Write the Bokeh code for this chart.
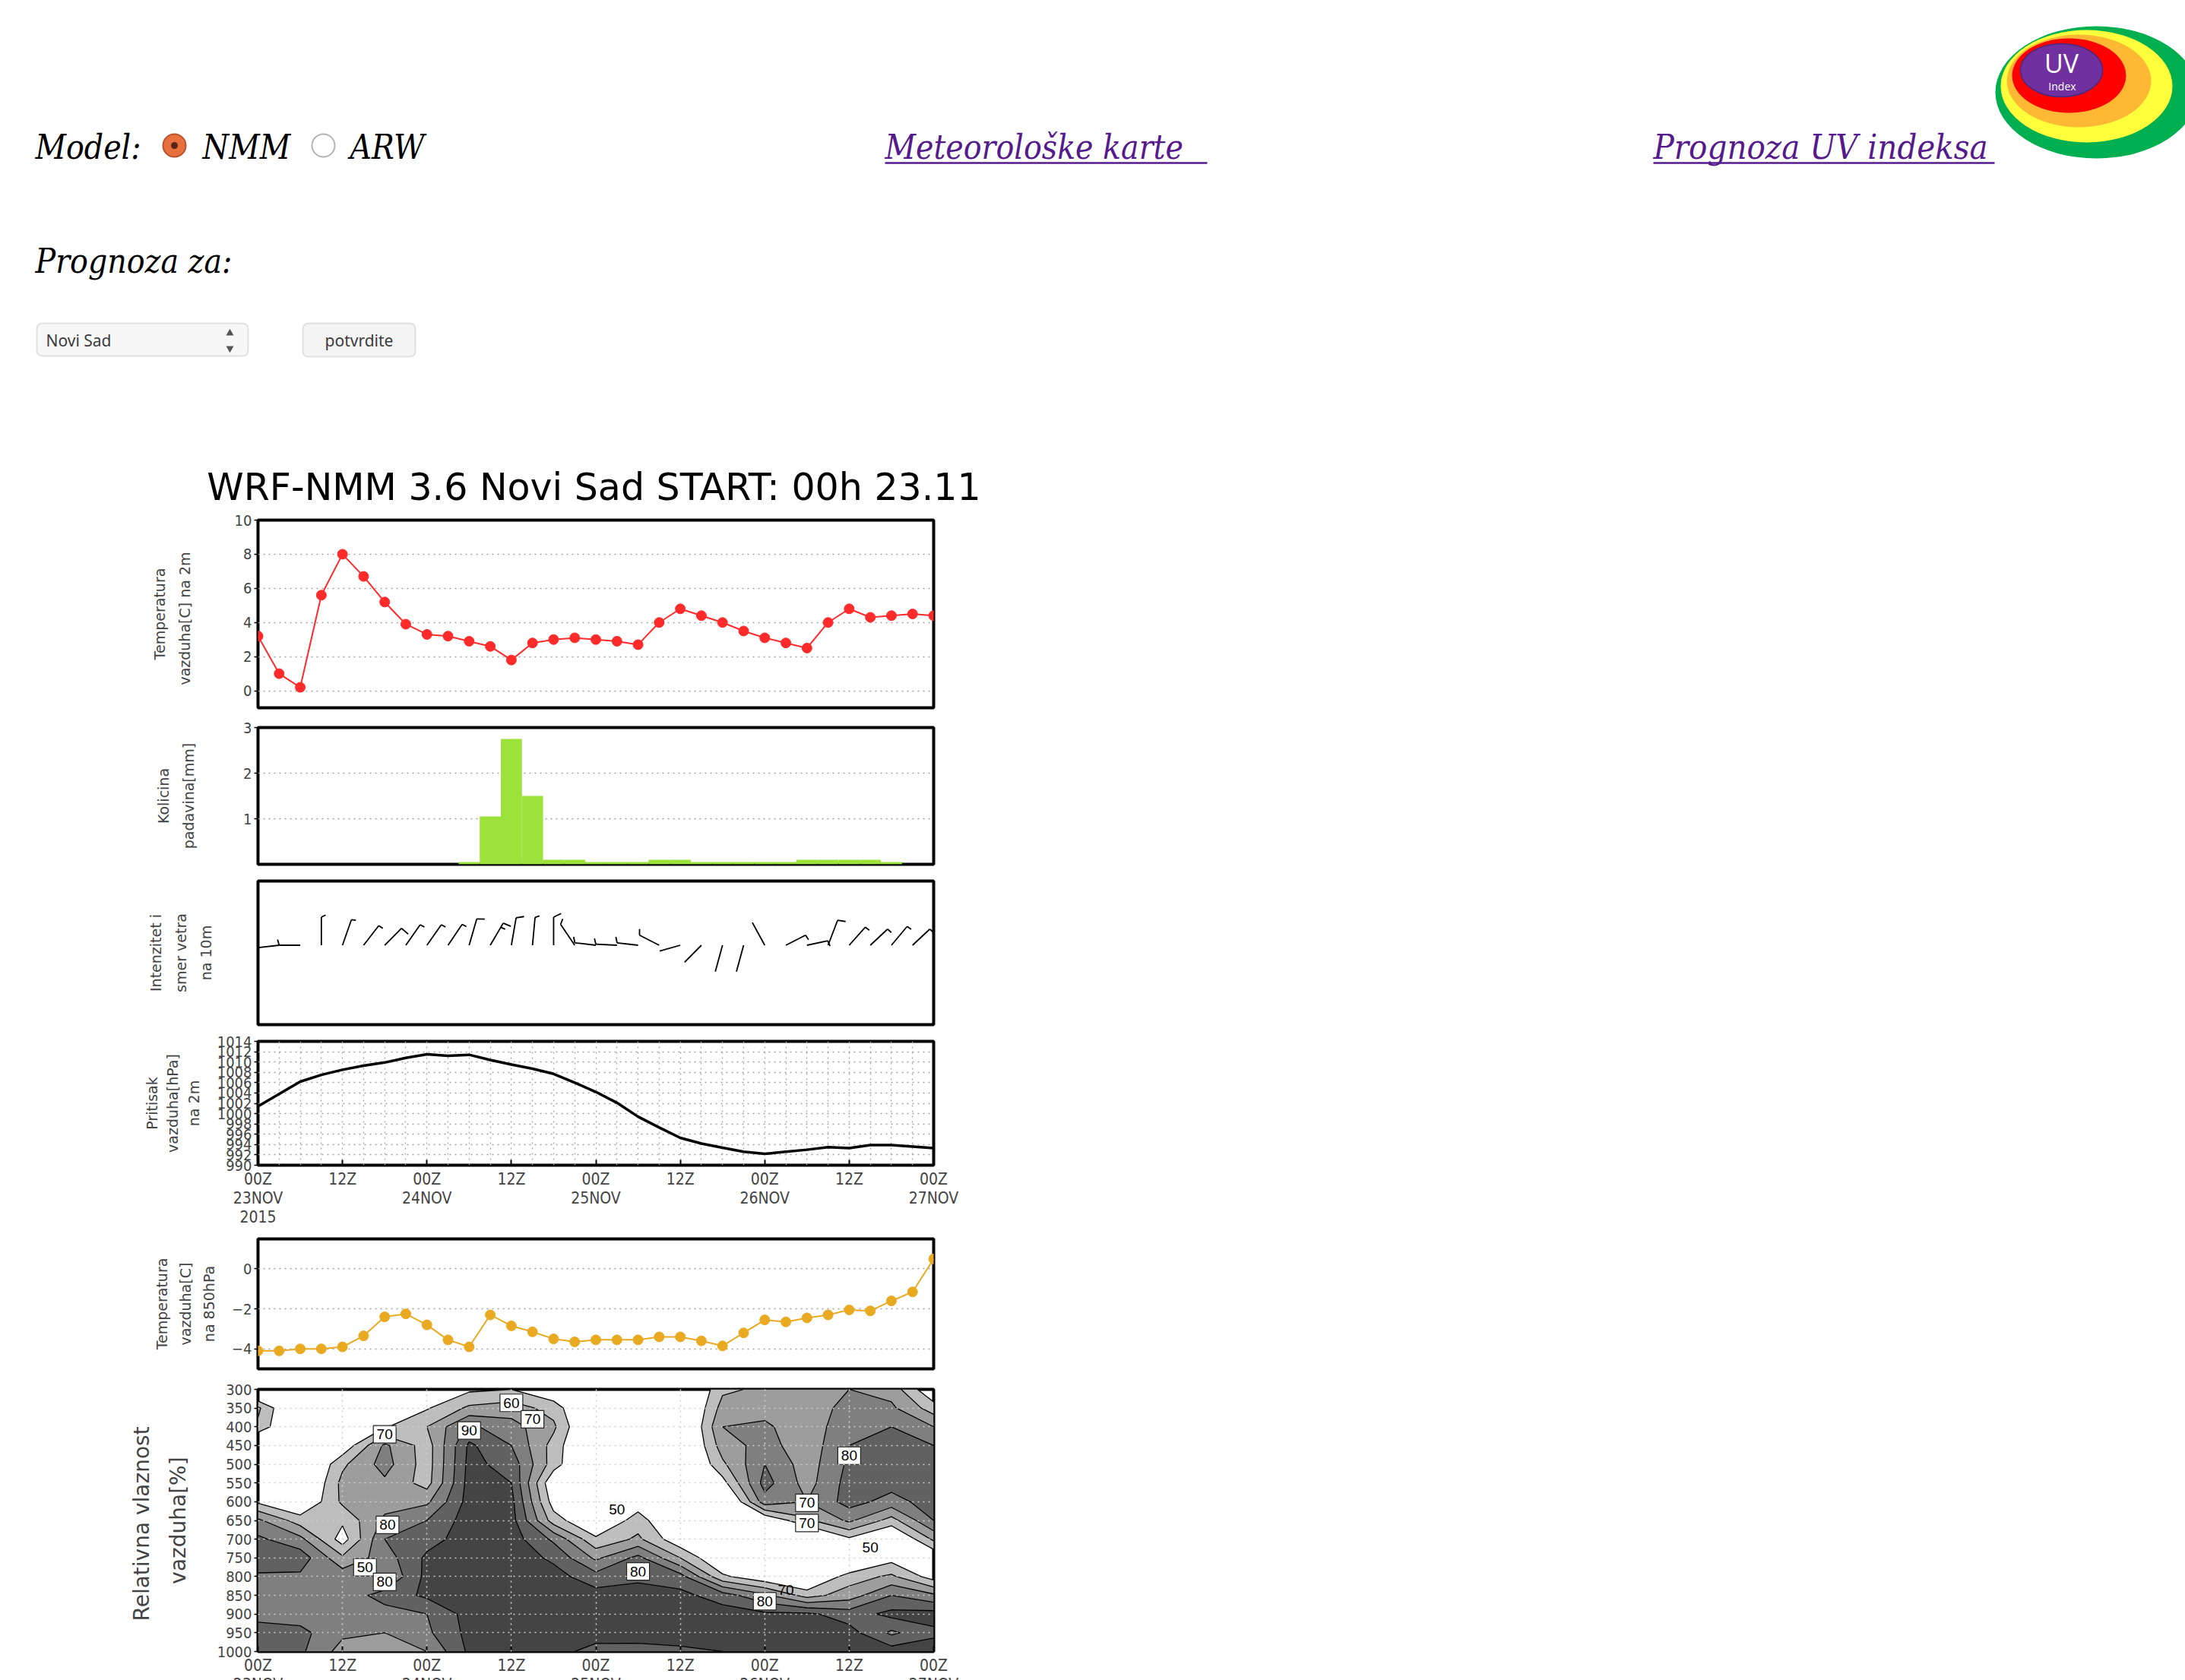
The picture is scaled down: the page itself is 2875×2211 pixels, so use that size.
import numpy as np
from bokeh.plotting import figure
from bokeh.layouts import column
from bokeh.models import Range1d, FixedTicker, BoxAnnotation
from bokeh.core.properties import value
from bokeh.embed import file_html
from bokeh.resources import INLINE

# ---------------- forecast data: 3-hourly steps from 00Z 23 NOV 2015 ----------------
hours = list(range(0, 97, 3))

# 2 m air temperature [C]
t2m = [3.2, 1.0, 0.2, 5.6, 8.0, 6.7, 5.2, 3.9, 3.3, 3.2, 2.9, 2.6, 1.8, 2.8, 3.0, 3.1,
       3.0, 2.9, 2.7, 4.0, 4.8, 4.4, 4.0, 3.5, 3.1, 2.8, 2.5, 4.0, 4.8, 4.3, 4.4, 4.5, 4.4]

# 3-hour precipitation [mm]
precip = [0, 0, 0, 0, 0, 0, 0, 0, 0, 0, 0.05, 1.05, 2.75, 1.5, 0.1, 0.1, 0.05, 0.05,
          0.05, 0.1, 0.1, 0.05, 0.05, 0.05, 0.05, 0.05, 0.1, 0.1, 0.1, 0.1, 0.05, 0, 0]

# 10 m wind: direction the wind blows from [deg] and speed [kt]
wind_dir = [0, 265, 270, 0, 25, 46, 53, 43, 43, 42, 21, 38, 13, 7, 0, 318, 275, 272,
            275, 291, 258, 233, 200, 200, 324, 69, 81, 27, 50, 55, 48, 55, 0]
wind_spd = [0, 5, 5, 5, 5, 5, 10, 5, 5, 5, 10, 15, 10, 5, 10, 5, 5, 5,
            5, 5, 3, 3, 3, 3, 3, 5, 5, 10, 5, 5, 5, 5, 0]

# sea level pressure [hPa]
mslp = [1001.4, 1003.8, 1006.2, 1007.5, 1008.5, 1009.3, 1009.9, 1010.8, 1011.5, 1011.2,
        1011.4, 1010.4, 1009.5, 1008.7, 1007.7, 1006.0, 1004.2, 1002.1, 999.4, 997.3,
        995.3, 994.2, 993.4, 992.6, 992.2, 992.6, 993.0, 993.5, 993.3, 993.9, 993.9,
        993.6, 993.3]

# 850 hPa air temperature [C]
t850 = [-4.1, -4.1, -4.0, -4.0, -3.9, -3.35, -2.4, -2.25, -2.8, -3.55, -3.9, -2.3,
        -2.85, -3.15, -3.5, -3.65, -3.55, -3.55, -3.55, -3.4, -3.4, -3.6, -3.85, -3.2,
        -2.55, -2.65, -2.45, -2.3, -2.05, -2.1, -1.6, -1.15, 0.5]

# relative humidity cross-section [%], 6-hourly columns, levels 300..1000 hPa
rh_hours = list(range(0, 97, 6))
rh_levels = list(range(300, 1001, 50))
rh_00 = [30, 62, 58, 30, 30, 30, 48, 72, 82, 88, 78, 74, 77, 84, 86]
rh_06 = [30, 30, 30, 30, 30, 32, 38, 55, 73, 86, 78, 74, 75, 83, 82]
rh_12 = [30, 30, 30, 42, 58, 63, 62, 52, 45, 62, 76, 74, 72, 72, 66]
rh_18 = [30, 30, 49, 72, 74, 68, 66, 72, 80, 75, 70, 84, 76, 70, 64]
rh_24 = [30, 49, 60, 55, 55, 56, 68, 80, 86, 92, 93, 92, 80, 78, 70]
rh_30 = [48, 62, 82, 92, 93, 94, 94, 95, 95, 96, 96, 95, 94, 93, 92]
rh_36 = [50, 65, 74, 80, 86, 90, 93, 94, 95, 96, 96, 96, 96, 94, 93]
rh_42 = [40, 56, 62, 56, 55, 40, 45, 55, 78, 88, 94, 96, 96, 95, 93]
rh_48 = [30, 30, 30, 30, 30, 30, 30, 38, 52, 68, 84, 94, 96, 94, 87]
rh_54 = [30, 30, 30, 30, 30, 30, 44, 55, 62, 83, 88, 94, 96, 95, 86]
rh_60 = [30, 30, 30, 30, 30, 30, 30, 35, 42, 60, 84, 93, 95, 95, 88]
rh_66 = [58, 64, 70, 65, 58, 46, 30, 30, 30, 38, 52, 85, 95, 95, 90]
rh_72 = [62, 66, 72, 74, 80, 84, 76, 40, 30, 30, 42, 72, 92, 95, 94]
rh_78 = [62, 62, 63, 64, 65, 66, 70, 58, 30, 30, 35, 56, 92, 95, 95]
rh_84 = [70, 75, 78, 80, 82, 84, 84, 72, 48, 30, 55, 65, 85, 94, 95]
rh_90 = [66, 72, 80, 84, 85, 84, 76, 56, 35, 46, 62, 80, 93, 78, 95]
rh_96 = [40, 55, 70, 80, 82, 84, 85, 80, 62, 40, 45, 72, 94, 88, 95]
rh_columns = [rh_00, rh_06, rh_12, rh_18, rh_24, rh_30, rh_36, rh_42, rh_48,
              rh_54, rh_60, rh_66, rh_72, rh_78, rh_84, rh_90, rh_96]
rh_bounds = [50, 60, 70, 80, 90, 101]

# contour value labels (hour, pressure, text): boxed and plain
rh_box_t = [36, 39, 18, 30, 84, 78, 78, 18.4, 15.2, 18, 54, 72]
rh_box_p = [336, 380, 420, 410, 477, 603, 657, 662, 775, 814, 786, 866]
rh_box_s = ["60", "70", "70", "90", "80", "70", "70", "80", "50", "80", "80", "80"]
rh_txt_t = [51, 87, 75]
rh_txt_p = [620, 722, 836]
rh_txt_s = ["50", "50", "70"]

# time axis tick labels
time_ticks = list(range(0, 97, 12))
time_labels = ["00Z\n23NOV\n2015", "12Z", "00Z\n24NOV", "12Z", "00Z\n25NOV",
               "12Z", "00Z\n26NOV", "12Z", "00Z\n27NOV"]

NARROW = "Liberation Sans Narrow, DejaVu Sans Condensed, Liberation Sans, sans-serif"
SERIF = "DejaVu Serif Condensed, DejaVu Serif, serif"
FRAME_W = 889
LEFT_B = 339
RIGHT_B = 90


# ---------------- page header (1 unit = 1 px, kept out of the panels' frame alignment) ----------------
HEAD_H = 670
hdr = figure(width=2875, height=HEAD_H, x_range=Range1d(0, 2875), y_range=Range1d(HEAD_H, 0),
             min_border=0, output_backend="svg", toolbar_location=None)
hdr.frame_align = False
hdr.axis.visible = False
hdr.grid.visible = False
hdr.outline_line_color = None
OV = dict(level="overlay")


def head_text(x, y, s, font=SERIF, size="44px", color="black", style="italic", align="left"):
    hdr.text(x=[x], y=[y], text=[s], text_font=value(font), text_font_size=size,
             text_font_style=style, text_color=color, text_align=align, text_baseline="middle",
             **OV)


head_text(46, 193, "Model:")
hdr.circle(x=[229], y=[191], radius=15, fill_color="#e8703f", line_color="#b9532c",
           line_width=2, **OV)
hdr.circle(x=[229], y=[191], radius=4.5, fill_color="#5a2410", line_color=None, **OV)
head_text(266, 193, "NMM")
hdr.circle(x=[425], y=[191], radius=15, fill_color="white", line_color="#b4b4b4",
           line_width=2, **OV)
head_text(460, 193, "ARW")

head_text(1164, 193, "Meteorološke karte", color="#551A8B")
hdr.segment(x0=[1164], y0=[214], x1=[1588], y1=[214], line_color="#551A8B", line_width=2.5, **OV)
head_text(2175, 193, "Prognoza UV indeksa", size="45px", color="#551A8B")
hdr.segment(x0=[2175], y0=[214], x1=[2624], y1=[214], line_color="#551A8B", line_width=2.5, **OV)

# UV index logo
hdr.ellipse(x=[2758], y=[121], width=266, height=174, fill_color="#00b050", line_color=None, **OV)
hdr.ellipse(x=[2745], y=[113], width=226, height=148, fill_color="#ffff3c", line_color=None, **OV)
hdr.ellipse(x=[2735], y=[106], width=190, height=122, fill_color="#ffb833", line_color=None, **OV)
hdr.ellipse(x=[2722], y=[99], width=150, height=98, fill_color="#ff0000", line_color=None, **OV)
hdr.ellipse(x=[2712], y=[92], width=108, height=70, fill_color="#7030a0", line_color="#4a2a80",
            line_width=1.5, **OV)
head_text(2712, 82, "UV", font="Open Sans", size="34px", color="white", style="normal",
          align="center")
head_text(2713, 113, "Index", font="Open Sans", size="14px", color="white", style="normal",
          align="center")

head_text(46, 343, "Prognoza za:")

# station selector and submit button
hdr.add_layout(BoxAnnotation(left=48, right=326, top=425, bottom=468, fill_color="#f7f7f7",
                             fill_alpha=1, line_color="#a6a6a6", line_width=2, border_radius=7))
head_text(60, 447, "Novi Sad", font="Noto Sans", size="21px", color="#3c3c3c", style="normal")
hdr.scatter(x=[302], y=[438], marker="triangle", size=10, fill_color="#555555",
            line_color=None, **OV)
hdr.scatter(x=[302], y=[458], marker="inverted_triangle", size=10, fill_color="#555555",
            line_color=None, **OV)
hdr.add_layout(BoxAnnotation(left=398, right=546, top=425, bottom=469, fill_color="#f4f4f4",
                             fill_alpha=1, line_color="#a6a6a6", line_width=2, border_radius=7))
head_text(472, 447, "potvrdite", font="Noto Sans", size="21px", color="#3c3c3c",
          style="normal", align="center")

# meteogram title
head_text(781, 641, "WRF-NMM 3.6 Novi Sad START: 00h 23.11", font="DejaVu Sans", size="49px",
          style="normal", align="center")


# ---------------- meteogram panels ----------------
def make_panel(frame_h, top, bottom, y_range, ylabel, standoff, label_size="19px", lh=1.5):
    p = figure(frame_width=FRAME_W, frame_height=frame_h, x_range=Range1d(0, 96),
               y_range=y_range, min_border_left=LEFT_B, min_border_right=RIGHT_B,
               min_border_top=top, min_border_bottom=bottom, output_backend="svg",
               toolbar_location=None)
    p.outline_line_color = "black"
    p.outline_line_width = 4
    p.outline_line_alpha = 1
    p.xgrid.visible = False
    p.ygrid.grid_line_color = "#a0a0a0"
    p.ygrid.grid_line_dash = "2 5"
    p.ygrid.grid_line_width = 1.6
    p.xaxis.visible = False
    ya = p.yaxis[0]
    ya.axis_line_color = None
    ya.major_tick_out = 5
    ya.major_tick_in = 0
    ya.major_tick_line_width = 1.5
    ya.minor_tick_line_color = None
    ya.major_label_text_font = NARROW
    ya.major_label_text_font_size = "20px"
    ya.major_label_standoff = 3
    ya.axis_label = ylabel
    ya.axis_label_text_font = "DejaVu Sans"
    ya.axis_label_text_font_size = label_size
    ya.axis_label_text_font_style = "normal"
    ya.axis_label_text_line_height = lh
    ya.axis_label_standoff = standoff
    return p


def time_axis(p):
    ax = p.xaxis[0]
    ax.visible = True
    ax.ticker = FixedTicker(ticks=time_ticks)
    ax.major_label_overrides = {t: s for t, s in zip(time_ticks, time_labels)}
    ax.axis_line_color = None
    ax.major_tick_in = 7
    ax.major_tick_out = 0
    ax.major_tick_line_width = 2
    ax.minor_tick_line_color = None
    ax.major_label_standoff = 6
    ax.major_label_text_font = NARROW
    ax.major_label_text_font_size = "21px"
    ax.major_label_text_line_height = 1.05


# 2 m temperature
p1 = make_panel(247, 14, 13, Range1d(-1, 10), "Temperatura\nvazduha[C]  na  2m", 52)
p1.yaxis.ticker = FixedTicker(ticks=[0, 2, 4, 6, 8, 10])
p1.line(hours, t2m, line_color="#ff2b2b", line_width=2)
p1.scatter(hours, t2m, size=13, fill_color="#ff2b2b", line_color="#ff2b2b")

# precipitation
p2 = make_panel(180, 13, 11, Range1d(0, 3), "Kolicina\npadavina[mm]", 58)
p2.yaxis.ticker = FixedTicker(ticks=[1, 2, 3])
p2.vbar(x=hours, top=precip, width=3, fill_color="#9de23a", line_color=None)

# 10 m wind barbs (screen-pixel geometry on the y axis)
p3 = make_panel(189, 11, 11, Range1d(-94.5, 94.5), "Intenzitet i\nsmer vetra\nna 10m", 58)
p3.yaxis.ticker = FixedTicker(ticks=[])
p3.ygrid.visible = False
PX_PER_H = FRAME_W / 96.0
XS = 0.75          # horizontal squeeze of the barb drawing
STAFF = 37.0
BASE_Y = 10.0
bx0, by0, bx1, by1 = [], [], [], []
for t, d, s in zip(hours, wind_dir, wind_spd):
    if s <= 0:
        continue
    r = np.radians(d)
    ux, uy = XS * np.sin(r), np.cos(r)
    tx, ty = t + STAFF * ux / PX_PER_H, BASE_Y + STAFF * uy
    bx0.append(t); by0.append(BASE_Y); bx1.append(tx); by1.append(ty)
    fr = np.radians(d + 70)
    fx, fy = XS * np.sin(fr), np.cos(fr)
    n_full, n_half = int(s // 10), int((s % 10) >= 5)
    pos = STAFF
    for k in range(n_full + n_half):
        flen = 14.0 if k < n_full else 8.0
        sx, sy = t + pos * ux / PX_PER_H, BASE_Y + pos * uy
        bx0.append(sx); by0.append(sy)
        bx1.append(sx + flen * fx / PX_PER_H); by1.append(sy + flen * fy)
        pos -= 7.0
p3.segment(x0=bx0, y0=by0, x1=bx1, y1=by1, line_color="black", line_width=1.8)

# sea level pressure
p4 = make_panel(163, 11, 79, Range1d(990, 1014), "Pritisak\nvazduha[hPa]\nna 2m", 17, lh=1.25)
p4.yaxis.ticker = FixedTicker(ticks=list(range(990, 1015, 2)))
p4.xgrid.visible = True
p4.xgrid.ticker = FixedTicker(ticks=hours)
p4.xgrid.grid_line_color = "#a8a8a8"
p4.xgrid.grid_line_dash = "2 5"
p4.xgrid.grid_line_width = 1.4
time_axis(p4)
p4.line(hours, mslp, line_color="black", line_width=3.5)

# 850 hPa temperature
p5 = make_panel(171, 14, 14, Range1d(-5, 1.5), "Temperatura\nvazduha[C]\nna 850hPa", 16, lh=1.4)
p5.yaxis.ticker = FixedTicker(ticks=[-4, -2, 0])
p5.line(hours, t850, line_color="#e9aa22", line_width=2)
p5.scatter(hours, t850, size=13, fill_color="#e9aa22", line_color="#e9aa22")

# relative humidity cross-section
p6 = make_panel(345, 13, 42, Range1d(1000, 300), "Relativna  vlaznost\nvazduha[%]", 32,
                label_size="28px", lh=1.45)
p6.yaxis.ticker = FixedTicker(ticks=rh_levels)
rh_grid = np.array(rh_columns, dtype=float).T
p6.contour(x=rh_hours, y=rh_levels, z=rh_grid, levels=rh_bounds,
           fill_color=["#bdbdbd", "#9d9d9d", "#7f7f7f", "#616161", "#444444"],
           line_color="black", line_width=1.3)
p6.ygrid.level = "overlay"
p6.ygrid.grid_line_color = "#d0d0d0"
p6.xgrid.visible = True
p6.xgrid.level = "overlay"
p6.xgrid.ticker = FixedTicker(ticks=time_ticks)
p6.xgrid.grid_line_color = "#d0d0d0"
p6.xgrid.grid_line_dash = "2 5"
p6.xgrid.grid_line_width = 1.6
time_axis(p6)

# contour value labels: white boxes with the value on top
p6.rect(x=rh_box_t, y=rh_box_p, width=30, height=23, width_units="screen",
        height_units="screen", fill_color="white", line_color="#222222", line_width=1.2,
        level="overlay")
p6.text(x=rh_box_t, y=rh_box_p, text=rh_box_s, text_font=value("Liberation Sans"),
        text_font_size="19px", text_align="center", text_baseline="middle",
        text_color="black", level="overlay")
p6.text(x=rh_txt_t, y=rh_txt_p, text=rh_txt_s, text_font=value("Liberation Sans"),
        text_font_size="19px", text_align="center", text_baseline="middle",
        text_color="black", level="overlay")

page = column(hdr, p1, p2, p3, p4, p5, p6, spacing=0)
open("out.html", "w").write(file_html(page, INLINE, title="Prognoza"))
